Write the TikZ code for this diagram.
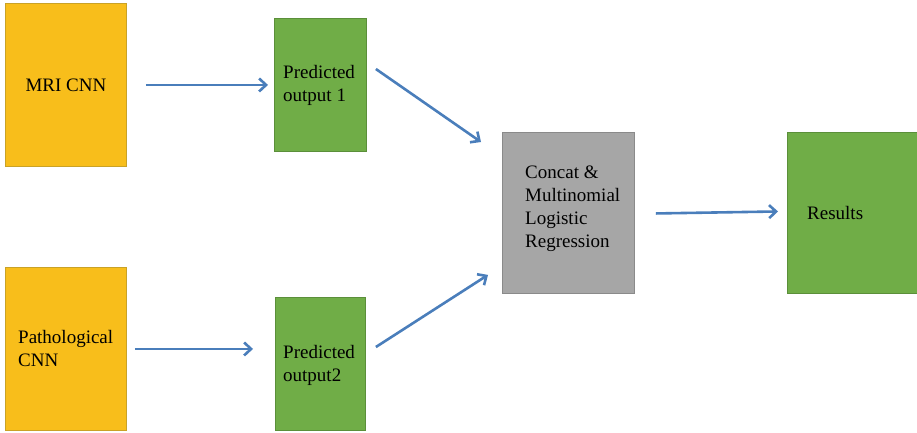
\documentclass[tikz,border=0pt]{standalone}
\usepackage{fontspec}
\setmainfont{Liberation Serif}
\usetikzlibrary{arrows.meta,calc}
\definecolor{orangeF}{HTML}{F8BE1B}
\definecolor{orangeD}{HTML}{C9A227}
\definecolor{greenF}{HTML}{70AD47}
\definecolor{greenD}{HTML}{5B8F3A}
\definecolor{grayF}{HTML}{A6A6A6}
\definecolor{grayD}{HTML}{8A8A8A}
\definecolor{arrowC}{HTML}{4A7EBB}
\begin{document}
\begin{tikzpicture}[x=1pt,y=-1pt,
  box/.style={draw, line width=0.9pt, inner sep=0pt, anchor=north west},
  orangebox/.style={box, fill=orangeF, draw=orangeD},
  greenbox/.style={box, fill=greenF, draw=greenD},
  graybox/.style={box, fill=grayF, draw=grayD},
  txt/.style={font=\fontsize{19}{23}\selectfont, align=left, inner sep=0pt, text=black},
  conn/.style={draw=arrowC, line width=2.6pt, -{Straight Barb[length=7pt,width=13pt,line width=2.6pt]}}
]
\useasboundingbox (0,0) rectangle (917,432);
% boxes
\node[orangebox, minimum width=121pt, minimum height=163pt] (mri) at (5,3) {};
\node[greenbox, minimum width=92pt, minimum height=133pt] (po1) at (274,18) {};
\node[orangebox, minimum width=121pt, minimum height=163pt] (path) at (5,267) {};
\node[greenbox, minimum width=90pt, minimum height=133pt] (po2) at (275,297) {};
\node[graybox, minimum width=132pt, minimum height=161pt] (concat) at (502,132) {};
\node[greenbox, minimum width=131pt, minimum height=161pt] (res) at (787,132) {};
% texts
\node[txt, anchor=center] (tmri) at (mri.center) {MRI CNN};
\node[txt, anchor=west] (tpo1) at ($(po1.west)+(9,0.5)$) {Predicted\\output 1};
\node[txt, anchor=west] (tpath) at ($(path.west)+(13,0)$) {Pathological\\CNN};
\node[txt, anchor=west] (tpo2) at ($(po2.west)+(8,1)$) {Predicted\\output2};
\node[txt, anchor=west] (tconcat) at (525,209) {Concat \&\\Multinomial\\Logistic\\Regression};
\node[txt, anchor=west] (tres) at ($(res.west)+(20,0)$) {Results};
% connectors
\draw[conn, shorten <=19pt, shorten >=6pt] (mri.east) -- (po1.west);
\draw[conn, shorten <=8pt, shorten >=22pt] (path.east) -- (path.east -| po2.west);
\draw[conn] ($(po1.north east)+(9,51)$) -- ($(concat.north west)+(-21,10)$);
\draw[conn] ($(po2.north east)+(10,50)$) -- ($(concat.south west)+(-14,-19)$);
\draw[conn] ($(concat.east)+(21,0.5)$) -- ($(res.west)+(-9,-1.5)$);
\end{tikzpicture}
\end{document}
